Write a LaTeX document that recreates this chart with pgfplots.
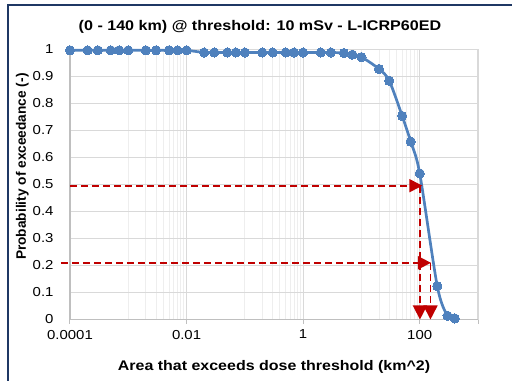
\documentclass[border=0pt]{standalone}
\usepackage{fontspec}
\setmainfont{Liberation Sans}[FakeStretch=1.15]
\newfontfamily\ylabfont{Liberation Sans}
\usepackage{pgfplots}
\pgfplotsset{compat=1.18}
\usetikzlibrary{arrows.meta}
\definecolor{excelblue}{RGB}{79,129,189}
\definecolor{darkred}{RGB}{192,0,0}
\definecolor{navyborder}{RGB}{31,56,100}
\definecolor{majgrid}{RGB}{217,217,217}
\definecolor{mingrid}{RGB}{238,238,238}
\definecolor{axisgray}{RGB}{191,191,191}
\begin{document}
\begin{tikzpicture}
\useasboundingbox (0,0) rectangle (512bp,381bp);
\begin{axis}[
  at={(70bp,61.5bp)}, anchor=south west,
  scale only axis, width=408bp, height=270bp,
  xmode=log, xmin=1e-4, xmax=1000, ymin=0, ymax=1,
  clip=false,
  axis lines*=left,
  axis line style={draw=axisgray, line width=1.2bp, -},
  xtick={1e-4,1e-2,1,100,1000},
  xticklabels={0.0001,0.01,1,100,{}},
  minor xtick={1e-3,2e-3,3e-3,4e-3,5e-3,6e-3,7e-3,8e-3,9e-3,0.1,0.2,0.3,0.4,0.5,0.6,0.7,0.8,0.9,10,20,30,40,50,60,70,80,90},
  ytick={0,0.1,0.2,0.3,0.4,0.5,0.6,0.7,0.8,0.9,1},
  yticklabels={0,0.1,0.2,0.3,0.4,0.5,0.6,0.7,0.8,0.9,1},
  grid=both,
  major grid style={draw=majgrid, line width=1.2bp},
  minor grid style={draw=mingrid, line width=0.9bp},
  tick align=outside,
  major tick length=4bp, minor tick length=0pt,
  xtick style={draw=axisgray, line width=1bp},
  ytick style={draw=none},
  ticklabel style={font=\fontsize{13bp}{15bp}\selectfont, text=black},
  xticklabel style={yshift=-3bp},
  yticklabel style={xshift=-9bp},
  title={(0 - 140 km) @ threshold: 10 mSv - L-ICRP60ED},
  title style={at={(axis description cs:0.4657,1.05)}, anchor=base, font=\bfseries\fontsize{14bp}{16bp}\selectfont},
  xlabel={Area that exceeds dose threshold (km\^{}2)},
  xlabel style={at={(axis description cs:0.5,-0.19)}, anchor=base, font=\bfseries\fontsize{13.9bp}{16bp}\selectfont},
  ylabel={Probability of exceedance (-)},
  ylabel style={at={(axis description cs:-0.108,0.566)}, anchor=base, rotate=0, font=\ylabfont\bfseries\fontsize{13.7bp}{16bp}\selectfont},
]
\addplot[excelblue, line width=2.7bp, smooth, mark=*, mark size=4.6bp, mark options={fill=excelblue, draw=excelblue, line width=0pt}] coordinates {
(1e-4,0.997) (2e-4,0.997) (3e-4,0.997) (5e-4,0.997) (7e-4,0.997)
(1e-3,0.997) (2e-3,0.997) (3e-3,0.997) (5e-3,0.997) (7e-3,0.997)
(1e-2,0.997) (0.02,0.989) (0.03,0.989) (0.05,0.989) (0.07,0.989)
(0.1,0.989) (0.2,0.989) (0.3,0.989) (0.5,0.989) (0.7,0.989)
(1,0.989) (2,0.989) (3,0.989) (5,0.987) (7,0.981)
(10,0.972) (20,0.928) (30,0.884) (50,0.754) (70,0.659)
(100,0.541) (200,0.124) (300,0.014) (400,0.004)
};
\addplot[darkred, line width=1.7bp, dash pattern=on 7bp off 4bp, -{Triangle[length=13bp,width=13bp]}] coordinates {(1e-4,0.4956) (111,0.4956)};
\addplot[darkred, line width=1.7bp, dash pattern=on 7bp off 4bp, -{Triangle[length=13bp,width=13bp]}] coordinates {(7e-5,0.21) (156,0.21)};
\addplot[darkred, line width=1.7bp, dash pattern=on 7bp off 4bp, -{Triangle[length=14bp,width=14bp]}] coordinates {(101,0.4956) (101,0)};
\addplot[darkred, line width=1.7bp, dash pattern=on 7bp off 4bp, -{Triangle[length=14bp,width=14bp]}] coordinates {(153,0.21) (153,0)};
\end{axis}
\draw[navyborder, line width=1.7bp] (8.3bp,-5bp) -- (8.3bp,375.7bp) -- (520bp,375.7bp);
\end{tikzpicture}
\end{document}
